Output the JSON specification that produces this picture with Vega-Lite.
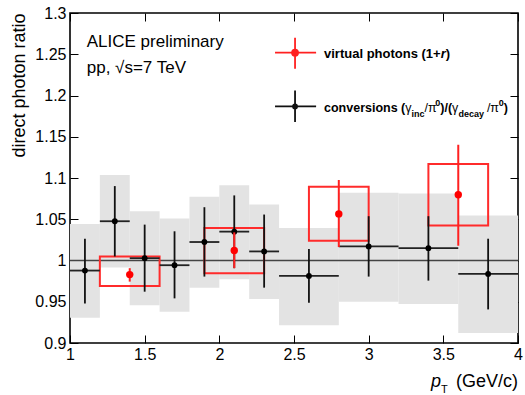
{
  "$schema": "https://vega.github.io/schema/vega-lite/v6.json",
  "width": 448,
  "height": 330,
  "autosize": {"type": "none"},
  "padding": {"left": 70, "top": 13, "right": 7, "bottom": 52},
  "background": "white",
  "config": {
    "font": "Liberation Sans",
    "view": {"stroke": "#000", "strokeWidth": 1.6},
    "axis": {"grid": false, "domain": false, "labelColor": "#000", "tickColor": "#000", "titleColor": "#000", "labelFont": "Liberation Sans", "titleFont": "Liberation Sans"}
  },
  "datasets": {
    "black": [
      {"pt": 1.1, "lo": 1.0, "hi": 1.2, "v": 0.9878, "elo": 0.948, "ehi": 1.0264, "slo": 0.9305, "shi": 1.0443},
      {"pt": 1.3, "lo": 1.2, "hi": 1.4, "v": 1.0476, "elo": 1.0049, "ehi": 1.0902, "slo": 0.9915, "shi": 1.1037},
      {"pt": 1.5, "lo": 1.4, "hi": 1.6, "v": 1.0028, "elo": 0.9622, "ehi": 1.0435, "slo": 0.9459, "shi": 1.0598},
      {"pt": 1.7, "lo": 1.6, "hi": 1.8, "v": 0.9943, "elo": 0.9541, "ehi": 1.0354, "slo": 0.9378, "shi": 1.0508},
      {"pt": 1.9, "lo": 1.8, "hi": 2.0, "v": 1.0224, "elo": 0.9805, "ehi": 1.0646, "slo": 0.9671, "shi": 1.0772},
      {"pt": 2.1, "lo": 2.0, "hi": 2.2, "v": 1.035, "elo": 0.9907, "ehi": 1.0789, "slo": 0.9772, "shi": 1.0911},
      {"pt": 2.3, "lo": 2.2, "hi": 2.4, "v": 1.011, "elo": 0.9671, "ehi": 1.0557, "slo": 0.9533, "shi": 1.0679},
      {"pt": 2.6, "lo": 2.4, "hi": 2.8, "v": 0.9813, "elo": 0.9488, "ehi": 1.0138, "slo": 0.9215, "shi": 1.0394},
      {"pt": 3.0, "lo": 2.8, "hi": 3.2, "v": 1.0171, "elo": 0.9805, "ehi": 1.0537, "slo": 0.95, "shi": 1.0821},
      {"pt": 3.4, "lo": 3.2, "hi": 3.6, "v": 1.015, "elo": 0.9756, "ehi": 1.0537, "slo": 0.9472, "shi": 1.0813},
      {"pt": 3.8, "lo": 3.6, "hi": 4.0, "v": 0.9837, "elo": 0.9407, "ehi": 1.0264, "slo": 0.9122, "shi": 1.0545}
    ],
    "red": [
      {"pt": 1.4, "lo": 1.2, "hi": 1.6, "v": 0.9829, "elo": 0.9744, "ehi": 0.9907, "slo": 0.9691, "shi": 1.0049},
      {"pt": 2.1, "lo": 1.9, "hi": 2.3, "v": 1.0122, "elo": 0.9907, "ehi": 1.0341, "slo": 0.9846, "shi": 1.0394},
      {"pt": 2.8, "lo": 2.6, "hi": 3.0, "v": 1.0565, "elo": 1.0163, "ehi": 1.0976, "slo": 1.024, "shi": 1.0894},
      {"pt": 3.6, "lo": 3.4, "hi": 3.8, "v": 1.0797, "elo": 1.0179, "ehi": 1.1403, "slo": 1.0423, "shi": 1.1171}
    ],
    "legpts": [
      {"s": "red", "x": 2.507, "y": 1.2519, "xlo": 2.373, "xhi": 2.648, "ylo": 1.2325, "yhi": 1.2701},
      {"s": "black", "x": 2.507, "y": 1.1868, "xlo": 2.373, "xhi": 2.648, "ylo": 1.1678, "yhi": 1.2062}
    ],
    "ann": [
      {"x": 1.112, "y": 1.2649, "t": "ALICE preliminary"},
      {"x": 1.112, "y": 1.2334, "t": "pp, √s=7 TeV"}
    ],
    "legvp": [
      {"x": 2.7009, "y": 1.2455, "t": "virtual photons (1+"},
      {"x": 3.5167, "y": 1.2455, "t": ")"}
    ],
    "legconv": [
      {"x": 2.7009, "y": 1.1795, "t": "conversions ("},
      {"x": 3.4797, "y": 1.1795, "t": ")/("},
      {"x": 3.9048, "y": 1.1795, "t": ")"}
    ],
    "legsym": [
      {"x": 3.2453, "y": 1.1795, "t": "γ"},
      {"x": 3.3746, "y": 1.1795, "t": "/π"},
      {"x": 3.5587, "y": 1.1795, "t": "γ"},
      {"x": 3.7917, "y": 1.1795, "t": "/π"}
    ],
    "legital": [{"x": 3.4823, "y": 1.2455, "t": "r"}],
    "legsub": [
      {"x": 3.2875, "y": 1.1795, "t": "inc"},
      {"x": 3.601, "y": 1.1795, "t": "decay"}
    ],
    "legsup": [
      {"x": 3.4462, "y": 1.1795, "t": "0"},
      {"x": 3.8714, "y": 1.1795, "t": "0"}
    ],
    "xtitle": [
      {"x": 4.0, "y": 0.9, "t": "(GeV/c)"}
    ],
    "xtp": [{"x": 3.418, "y": 0.9, "t": "p"}],
    "xtsub": [{"x": 3.485, "y": 0.9, "t": "T"}]
  },
  "resolve": {"axis": {"x": "independent", "y": "independent"}},
  "layer": [
    {
      "data": {"name": "black"},
      "mark": {"type": "rect", "fill": "#e3e3e3"},
      "encoding": {
        "x": {"field": "lo", "type": "quantitative", "scale": {"domain": [1, 4], "nice": false, "zero": false},
          "axis": {"orient": "bottom", "values": [1, 1.5, 2, 2.5, 3, 3.5, 4], "format": "~g", "labelFontSize": 16, "labelPadding": 11, "tickSize": -8, "labelFlush": false, "title": null}},
        "x2": {"field": "hi"},
        "y": {"field": "slo", "type": "quantitative", "scale": {"domain": [0.9, 1.3], "nice": false, "zero": false},
          "axis": {"orient": "left", "values": [0.9, 0.95, 1, 1.05, 1.1, 1.15, 1.2, 1.25, 1.3], "format": "~g", "labelFontSize": 16, "labelPadding": 12, "tickSize": -8, "labelFlush": false,
            "title": "direct photon ratio", "titleFontSize": 18, "titleFontWeight": "normal", "titleAnchor": "end", "titlePadding": 6}},
        "y2": {"field": "shi"}
      }
    },
    {
      "data": {"values": [{}]},
      "mark": {"type": "rule", "color": "#444", "strokeWidth": 1.5},
      "encoding": {"y": {"datum": 1, "type": "quantitative", "axis": null}}
    },
    {
      "data": {"name": "red"},
      "mark": {"type": "rect", "filled": false, "color": "#ff2b2b", "strokeWidth": 2},
      "encoding": {
        "x": {"field": "lo", "type": "quantitative", "axis": null},
        "x2": {"field": "hi"},
        "y": {"field": "slo", "type": "quantitative", "axis": null},
        "y2": {"field": "shi"}
      }
    },
    {
      "data": {"name": "black"},
      "mark": {"type": "rule", "color": "#111", "strokeWidth": 1.8},
      "encoding": {
        "x": {"field": "pt", "type": "quantitative", "axis": null},
        "y": {"field": "elo", "type": "quantitative", "axis": null},
        "y2": {"field": "ehi"}
      }
    },
    {
      "data": {"name": "black"},
      "mark": {"type": "rule", "color": "#222", "strokeWidth": 1.8},
      "encoding": {
        "x": {"field": "lo", "type": "quantitative", "axis": null},
        "x2": {"field": "hi"},
        "y": {"field": "v", "type": "quantitative", "axis": null}
      }
    },
    {
      "data": {"name": "black"},
      "mark": {"type": "circle", "color": "#000", "size": 34, "opacity": 1},
      "encoding": {
        "x": {"field": "pt", "type": "quantitative",
          "axis": {"orient": "top", "values": [1, 1.5, 2, 2.5, 3, 3.5, 4], "labels": false, "tickSize": -8, "title": null}},
        "y": {"field": "v", "type": "quantitative",
          "axis": {"orient": "right", "values": [0.9, 0.95, 1, 1.05, 1.1, 1.15, 1.2, 1.25, 1.3], "labels": false, "tickSize": -8, "title": null}}
      }
    },
    {
      "data": {"name": "red"},
      "mark": {"type": "rule", "color": "#ff2020", "strokeWidth": 2},
      "encoding": {
        "x": {"field": "pt", "type": "quantitative", "axis": null},
        "y": {"field": "elo", "type": "quantitative", "axis": null},
        "y2": {"field": "ehi"}
      }
    },
    {
      "data": {"name": "red"},
      "mark": {"type": "circle", "color": "#ff0000", "size": 55, "opacity": 1},
      "encoding": {
        "x": {"field": "pt", "type": "quantitative", "axis": null},
        "y": {"field": "v", "type": "quantitative", "axis": null}
      }
    },
    {
      "data": {"name": "legpts"},
      "mark": {"type": "rule", "strokeWidth": 1.8},
      "encoding": {
        "x": {"field": "xlo", "type": "quantitative", "axis": null},
        "x2": {"field": "xhi"},
        "y": {"field": "y", "type": "quantitative", "axis": null},
        "color": {"field": "s", "type": "nominal", "scale": {"domain": ["red", "black"], "range": ["#ff2020", "#111"]}, "legend": null}
      }
    },
    {
      "data": {"name": "legpts"},
      "mark": {"type": "rule", "strokeWidth": 1.8},
      "encoding": {
        "x": {"field": "x", "type": "quantitative", "axis": null},
        "y": {"field": "ylo", "type": "quantitative", "axis": null},
        "y2": {"field": "yhi"},
        "color": {"field": "s", "type": "nominal", "scale": {"domain": ["red", "black"], "range": ["#ff2020", "#111"]}, "legend": null}
      }
    },
    {
      "data": {"name": "legpts"},
      "mark": {"type": "circle", "opacity": 1},
      "encoding": {
        "x": {"field": "x", "type": "quantitative", "axis": null},
        "y": {"field": "y", "type": "quantitative", "axis": null},
        "color": {"field": "s", "type": "nominal", "scale": {"domain": ["red", "black"], "range": ["#ff0000", "#000"]}, "legend": null},
        "size": {"field": "s", "type": "nominal", "scale": {"domain": ["red", "black"], "range": [60, 34]}, "legend": null}
      }
    },
    {
      "data": {"name": "ann"},
      "mark": {"type": "text", "align": "left", "baseline": "middle", "fontSize": 17, "color": "#000"},
      "encoding": {
        "x": {"field": "x", "type": "quantitative", "axis": null},
        "y": {"field": "y", "type": "quantitative", "axis": null},
        "text": {"field": "t"}
      }
    },
    {
      "data": {"name": "legvp"},
      "mark": {"type": "text", "align": "left", "baseline": "alphabetic", "fontSize": 13, "fontWeight": "bold", "color": "#000"},
      "encoding": {
        "x": {"field": "x", "type": "quantitative", "axis": null},
        "y": {"field": "y", "type": "quantitative", "axis": null},
        "text": {"field": "t"}
      }
    },
    {
      "data": {"name": "legconv"},
      "mark": {"type": "text", "align": "left", "baseline": "alphabetic", "fontSize": 12.5, "fontWeight": "bold", "color": "#000"},
      "encoding": {
        "x": {"field": "x", "type": "quantitative", "axis": null},
        "y": {"field": "y", "type": "quantitative", "axis": null},
        "text": {"field": "t"}
      }
    },
    {
      "data": {"name": "legsym"},
      "mark": {"type": "text", "align": "left", "baseline": "alphabetic", "fontSize": 12.5, "fontWeight": "normal", "color": "#000"},
      "encoding": {
        "x": {"field": "x", "type": "quantitative", "axis": null},
        "y": {"field": "y", "type": "quantitative", "axis": null},
        "text": {"field": "t"}
      }
    },
    {
      "data": {"name": "legital"},
      "mark": {"type": "text", "align": "left", "baseline": "alphabetic", "fontSize": 13, "fontWeight": "bold", "fontStyle": "italic", "color": "#000"},
      "encoding": {
        "x": {"field": "x", "type": "quantitative", "axis": null},
        "y": {"field": "y", "type": "quantitative", "axis": null},
        "text": {"field": "t"}
      }
    },
    {
      "data": {"name": "legsub"},
      "mark": {"type": "text", "align": "left", "baseline": "alphabetic", "fontSize": 9, "fontWeight": "bold", "dy": 5, "color": "#000"},
      "encoding": {
        "x": {"field": "x", "type": "quantitative", "axis": null},
        "y": {"field": "y", "type": "quantitative", "axis": null},
        "text": {"field": "t"}
      }
    },
    {
      "data": {"name": "legsup"},
      "mark": {"type": "text", "align": "left", "baseline": "alphabetic", "fontSize": 9, "fontWeight": "bold", "dy": -6, "color": "#000"},
      "encoding": {
        "x": {"field": "x", "type": "quantitative", "axis": null},
        "y": {"field": "y", "type": "quantitative", "axis": null},
        "text": {"field": "t"}
      }
    },
    {
      "data": {"name": "xtitle"},
      "mark": {"type": "text", "align": "right", "baseline": "alphabetic", "fontSize": 18, "dy": 44, "color": "#000"},
      "encoding": {
        "x": {"field": "x", "type": "quantitative", "axis": null},
        "y": {"field": "y", "type": "quantitative", "axis": null},
        "text": {"field": "t"}
      }
    },
    {
      "data": {"name": "xtp"},
      "mark": {"type": "text", "align": "left", "baseline": "alphabetic", "fontSize": 18, "fontStyle": "italic", "dy": 44, "color": "#000"},
      "encoding": {
        "x": {"field": "x", "type": "quantitative", "axis": null},
        "y": {"field": "y", "type": "quantitative", "axis": null},
        "text": {"field": "t"}
      }
    },
    {
      "data": {"name": "xtsub"},
      "mark": {"type": "text", "align": "left", "baseline": "alphabetic", "fontSize": 11, "dy": 50, "color": "#000"},
      "encoding": {
        "x": {"field": "x", "type": "quantitative", "axis": null},
        "y": {"field": "y", "type": "quantitative", "axis": null},
        "text": {"field": "t"}
      }
    }
  ]
}
